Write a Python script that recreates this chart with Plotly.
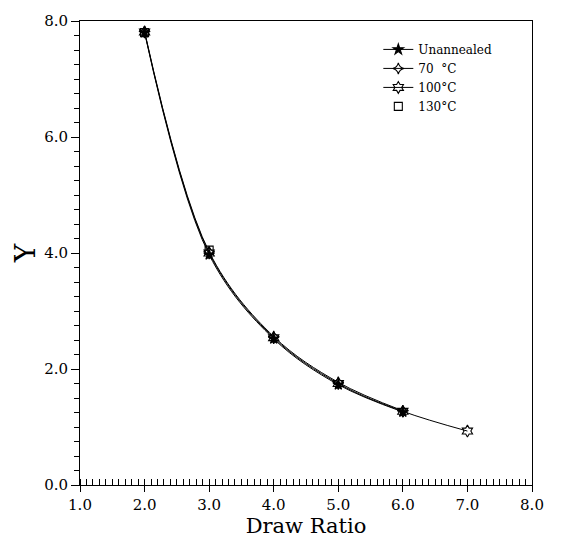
import plotly.graph_objects as go

series_names = ["Unannealed", "70  °C", "100°C", "130°C"]
x_unannealed = [2.0, 3.0, 4.0, 5.0, 6.0]
y_unannealed = [7.80, 3.97, 2.52, 1.73, 1.26]
x_70 = [2.0, 3.0, 4.0, 5.0, 6.0]
y_70 = [7.82, 4.02, 2.56, 1.77, 1.28]
x_100 = [2.0, 3.0, 4.0, 5.0, 6.0, 7.0]
y_100 = [7.81, 4.00, 2.54, 1.75, 1.27, 0.93]
x_130 = [2.0, 3.0]
y_130 = [7.80, 4.05]

symbols = ["star", "star-diamond-open", "hexagram-open", "square-open"]
sizes = [8, 8, 9, 8]
modes = ["lines+markers", "lines+markers", "lines+markers", "markers"]
xs = [x_unannealed, x_70, x_100, x_130]
ys = [y_unannealed, y_70, y_100, y_130]

FONT = "DejaVu Serif"
fig = go.Figure()
for name, x, y, sym, sz, md in zip(series_names, xs, ys, symbols, sizes, modes):
    fig.add_trace(go.Scatter(
        x=x, y=y, name=name, mode=md,
        line=dict(color="black", width=1, shape="spline", smoothing=1.0),
        marker=dict(symbol=sym, size=sz, color="black",
                    line=dict(color="black", width=1.1)),
    ))

fig.update_layout(
    width=571, height=543,
    margin=dict(l=80, r=39, t=12, b=53),
    paper_bgcolor="white", plot_bgcolor="white",
    font=dict(family=FONT, color="black", size=14),
    showlegend=True,
    legend=dict(x=0.66, y=0.97, xanchor="left", yanchor="top",
                bgcolor="rgba(0,0,0,0)", font=dict(family=FONT, size=12),
                tracegroupgap=0, itemsizing="trace"),
    xaxis=dict(
        range=[1.0, 8.0], dtick=1.0, tick0=1.0, tickformat=".1f",
        ticks="outside", ticklen=6, tickwidth=1, tickcolor="black",
        showgrid=False, zeroline=False,
        showline=True, linecolor="black", linewidth=1, mirror=True,
        tickfont=dict(family=FONT, size=15),
        title=dict(text="Draw Ratio", font=dict(family=FONT, size=21), standoff=2),
        minor=dict(dtick=0.1, ticks="inside", ticklen=6, tickcolor="black", showgrid=False),
    ),
    yaxis=dict(
        range=[0.0, 8.0], dtick=2.0, tick0=0.0, tickformat=".1f",
        ticks="outside", ticklen=8, tickwidth=1, tickcolor="black",
        showgrid=False, zeroline=False,
        showline=True, linecolor="black", linewidth=1, mirror=True,
        tickfont=dict(family=FONT, size=15),
        title=dict(text="Y", font=dict(family=FONT, size=28), standoff=0),
        minor=dict(dtick=0.25, ticks="outside", ticklen=5, tickcolor="black", showgrid=False),
    ),
)

fig.write_html("out.html")
